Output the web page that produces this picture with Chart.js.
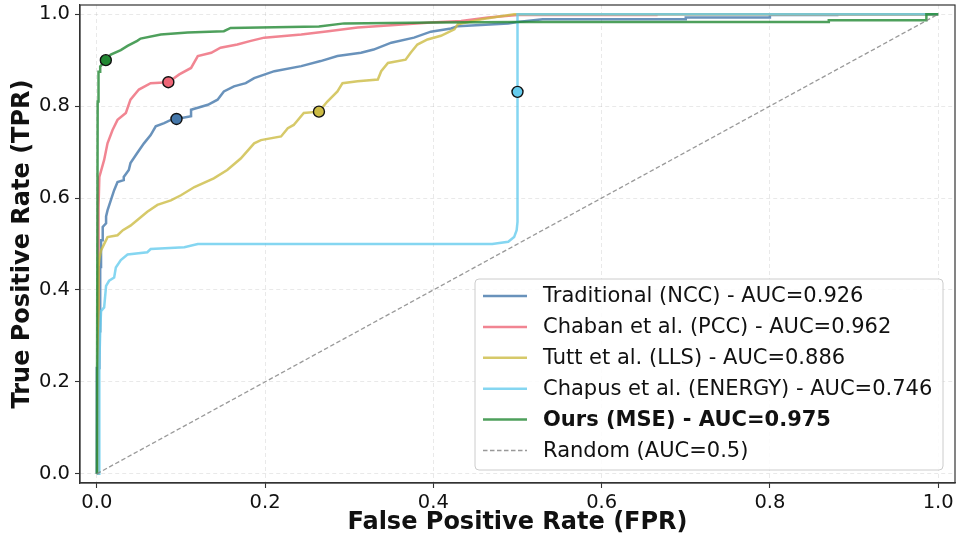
<!DOCTYPE html>
<html>
<head>
<meta charset="utf-8">
<script src="https://cdn.jsdelivr.net/npm/chart.js@4.4.1/dist/chart.umd.min.js"></script>
<style>
  html, body { margin: 0; padding: 0; background: #fff; }
  #wrap { width: 958px; height: 540px; }
</style>
</head>
<body>
<div id="wrap"><canvas id="canvas" width="958" height="540"></canvas></div>
<script>
// ROC curves (FPR, TPR)
const nccFpr = [0, 0, 0.003, 0.003, 0.004, 0.004, 0.005, 0.005, 0.007, 0.007, 0.011, 0.011, 0.0127, 0.0166, 0.0206, 0.0246, 0.032, 0.032, 0.038, 0.040, 0.048, 0.056, 0.064, 0.070, 0.080, 0.088, 0.0947, 0.112, 0.112, 0.132, 0.1435, 0.151, 0.163, 0.177, 0.187, 0.211, 0.243, 0.266, 0.286, 0.314, 0.329, 0.350, 0.377, 0.397, 0.421, 0.429, 0.489, 0.5, 0.53, 0.70, 0.70, 0.80, 0.80, 0.88, 0.88, 1];
const nccTpr = [0, 0.23, 0.23, 0.31, 0.31, 0.45, 0.45, 0.508, 0.508, 0.537, 0.545, 0.56, 0.573, 0.595, 0.617, 0.635, 0.639, 0.646, 0.661, 0.676, 0.698, 0.719, 0.737, 0.756, 0.763, 0.770, 0.772, 0.778, 0.792, 0.803, 0.814, 0.832, 0.843, 0.850, 0.861, 0.876, 0.887, 0.898, 0.909, 0.916, 0.923, 0.938, 0.949, 0.962, 0.969, 0.974, 0.980, 0.983, 0.989, 0.989, 0.993, 0.993, 0.998, 0.998, 1.0, 1.0];

const pccFpr = [0, 0.002, 0.002, 0.003, 0.0087, 0.0127, 0.0187, 0.0246, 0.0345, 0.040, 0.050, 0.064, 0.085, 0.098, 0.112, 0.120, 0.136, 0.147, 0.167, 0.183, 0.199, 0.243, 0.275, 0.310, 0.350, 0.397, 0.433, 0.465, 0.5, 0.665, 0.665, 1];
const pccTpr = [0, 0, 0.58, 0.646, 0.683, 0.719, 0.748, 0.770, 0.785, 0.814, 0.836, 0.850, 0.852, 0.869, 0.883, 0.909, 0.916, 0.927, 0.934, 0.942, 0.949, 0.956, 0.963, 0.971, 0.976, 0.982, 0.985, 0.993, 0.998, 0.998, 1.0, 1.0];

const llsFpr = [0, 0.002, 0.002, 0.003, 0.005, 0.0127, 0.0246, 0.031, 0.040, 0.050, 0.060, 0.072, 0.088, 0.100, 0.116, 0.139, 0.155, 0.171, 0.187, 0.195, 0.219, 0.227, 0.234, 0.246, 0.264, 0.274, 0.286, 0.292, 0.310, 0.334, 0.338, 0.346, 0.367, 0.373, 0.381, 0.393, 0.409, 0.425, 0.429, 0.457, 0.496, 1];
const llsTpr = [0, 0, 0.45, 0.468, 0.486, 0.515, 0.519, 0.530, 0.540, 0.555, 0.570, 0.585, 0.595, 0.606, 0.624, 0.643, 0.661, 0.686, 0.719, 0.726, 0.734, 0.752, 0.759, 0.785, 0.788, 0.810, 0.832, 0.850, 0.854, 0.858, 0.876, 0.894, 0.901, 0.916, 0.934, 0.945, 0.953, 0.967, 0.978, 0.989, 1.0, 1.0];

const energyFpr = [0, 0.003, 0.003, 0.004, 0.005, 0.0087, 0.011, 0.0146, 0.0206, 0.0226, 0.0285, 0.0365, 0.060, 0.064, 0.104, 0.120, 0.470, 0.489, 0.496, 0.499, 0.5, 0.5, 1];
const energyTpr = [0, 0, 0.24, 0.31, 0.354, 0.362, 0.409, 0.420, 0.427, 0.449, 0.465, 0.477, 0.482, 0.489, 0.493, 0.500, 0.500, 0.505, 0.515, 0.530, 0.548, 1.0, 1.0];

const mseFpr = [0, 0.001, 0.002, 0.002, 0.004, 0.004, 0.0107, 0.0166, 0.0285, 0.0365, 0.048, 0.052, 0.076, 0.108, 0.151, 0.159, 0.264, 0.294, 0.40, 0.5, 0.870, 0.870, 0.986, 0.986, 1];
const mseTpr = [0, 0.81, 0.81, 0.875, 0.875, 0.886, 0.900, 0.912, 0.922, 0.931, 0.942, 0.947, 0.956, 0.960, 0.963, 0.970, 0.973, 0.980, 0.982, 0.983, 0.983, 0.987, 0.987, 1.0, 1.0];

const randomFpr = [0, 1];
const randomTpr = [0, 1];

// operating points (marker dots)
const opFpr = [0.0947, 0.085, 0.264, 0.5, 0.0107];
const opTpr = [0.772, 0.852, 0.788, 0.831, 0.900];

const labels = [
  "Traditional (NCC) - AUC=0.926",
  "Chaban et al. (PCC) - AUC=0.962",
  "Tutt et al. (LLS) - AUC=0.886",
  "Chapus et al. (ENERGY) - AUC=0.746",
  "Ours (MSE) - AUC=0.975",
  "Random (AUC=0.5)"
];
const colors = ["#4477AA", "#EE6677", "#CCBB44", "#66CCEE", "#228833"];
const tickVals = [0, 0.2, 0.4, 0.6, 0.8, 1.0];

const FONT = '"DejaVu Sans", sans-serif';

function pts(xs, ys) {
  return xs.map((x, i) => ({ x: x, y: ys[i] }));
}

function alpha(hex, a) {
  const n = parseInt(hex.slice(1), 16);
  return "rgba(" + (n >> 16) + "," + ((n >> 8) & 255) + "," + (n & 255) + "," + a + ")";
}

const curves = [
  [nccFpr, nccTpr],
  [pccFpr, pccTpr],
  [llsFpr, llsTpr],
  [energyFpr, energyTpr],
  [mseFpr, mseTpr]
];

const datasets = [];
curves.forEach((c, i) => {
  datasets.push({
    label: labels[i],
    data: pts(c[0], c[1]),
    borderColor: alpha(colors[i], 0.8),
    borderWidth: 2.5,
    pointRadius: 0,
    fill: false,
    tension: 0,
    order: 6 - i
  });
});
datasets.push({
  label: labels[5],
  data: pts(randomFpr, randomTpr),
  borderColor: "rgba(128,128,128,0.8)",
  borderWidth: 1.3,
  borderDash: [4.5, 2.5],
  pointRadius: 0,
  fill: false,
  order: 1
});
opFpr.forEach((x, i) => {
  datasets.push({
    label: "op" + i,
    data: [{ x: x, y: opTpr[i] }],
    showLine: false,
    pointRadius: 5.5,
    pointBackgroundColor: colors[i],
    pointBorderColor: "#111",
    pointBorderWidth: 1.4,
    order: 0
  });
});

// frame round the plot area + legend box inside it
const frameAndLegend = {
  id: "frameAndLegend",
  afterDraw(chart) {
    const { ctx, chartArea: { left, top, right, bottom } } = chart;
    ctx.save();
    ctx.strokeStyle = "#333";
    ctx.lineWidth = 1.2;
    ctx.strokeRect(left, top, right - left, bottom - top);

    // legend
    const bx = 475, by = 279, bw = 468, bh = 191, r = 4;
    ctx.beginPath();
    ctx.moveTo(bx + r, by);
    ctx.arcTo(bx + bw, by, bx + bw, by + bh, r);
    ctx.arcTo(bx + bw, by + bh, bx, by + bh, r);
    ctx.arcTo(bx, by + bh, bx, by, r);
    ctx.arcTo(bx, by, bx + bw, by, r);
    ctx.closePath();
    ctx.fillStyle = "rgba(255,255,255,0.85)";
    ctx.fill();
    ctx.strokeStyle = "#cccccc";
    ctx.lineWidth = 1;
    ctx.stroke();

    ctx.textBaseline = "middle";
    ctx.textAlign = "left";
    for (let i = 0; i < 6; i++) {
      const y = 296 + i * 30.9;
      const ds = chart.data.datasets[i];
      ctx.beginPath();
      ctx.strokeStyle = ds.borderColor;
      ctx.lineWidth = ds.borderWidth;
      ctx.setLineDash(ds.borderDash || []);
      ctx.moveTo(483, y);
      ctx.lineTo(527, y);
      ctx.stroke();
      ctx.setLineDash([]);
      ctx.fillStyle = "#111";
      ctx.font = (i === 4 ? "bold " : "") + "21px " + FONT;
      ctx.fillText(ds.label, 543, y + 1);
    }
    ctx.restore();
  }
};

const gridOpts = {
  color: "rgba(176,176,176,0.35)",
  lineWidth: 0.8,
  tickColor: "#333",
  tickLength: 5,
  tickWidth: 1.1,
  tickBorderDash: []
};

new Chart(document.getElementById("canvas").getContext("2d"), {
  type: "scatter",
  data: { datasets: datasets },
  options: {
    responsive: false,
    animation: false,
    showLine: true,
    layout: { autoPadding: false, padding: { left: 0, top: 5, right: 3, bottom: 0 } },
    plugins: {
      legend: { display: false },
      tooltip: { enabled: false }
    },
    scales: {
      x: {
        type: "linear",
        min: -0.02,
        max: 1.02,
        afterBuildTicks: (s) => { s.ticks = tickVals.map((v) => ({ value: v })); },
        afterFit: (s) => { s.height = 57; s.paddingLeft = 0; s.paddingRight = 0; },
        grid: gridOpts,
        border: { display: true, color: "#333", width: 1.2, dash: [4, 3] },
        ticks: {
          color: "#111",
          font: { family: FONT, size: 19.5 },
          padding: 3,
          maxRotation: 0,
          callback: (v) => v.toFixed(1)
        },
        title: {
          display: true,
          text: "False Positive Rate (FPR)",
          color: "#111",
          font: { family: FONT, size: 24, weight: "bold" },
          padding: { top: 0, bottom: 3 }
        }
      },
      y: {
        type: "linear",
        min: -0.02,
        max: 1.02,
        afterBuildTicks: (s) => { s.ticks = tickVals.map((v) => ({ value: v })); },
        afterFit: (s) => { s.width = 80; s.paddingTop = 0; s.paddingBottom = 0; },
        grid: gridOpts,
        border: { display: true, color: "#333", width: 1.2, dash: [4, 3] },
        ticks: {
          color: "#111",
          font: { family: FONT, size: 19.5 },
          padding: 5,
          callback: (v) => v.toFixed(1)
        },
        title: {
          display: true,
          text: "True Positive Rate (TPR)",
          color: "#111",
          font: { family: FONT, size: 24, weight: "bold" },
          padding: { top: 8, bottom: 0 }
        }
      }
    }
  },
  plugins: [frameAndLegend]
});
</script>
</body>
</html>
